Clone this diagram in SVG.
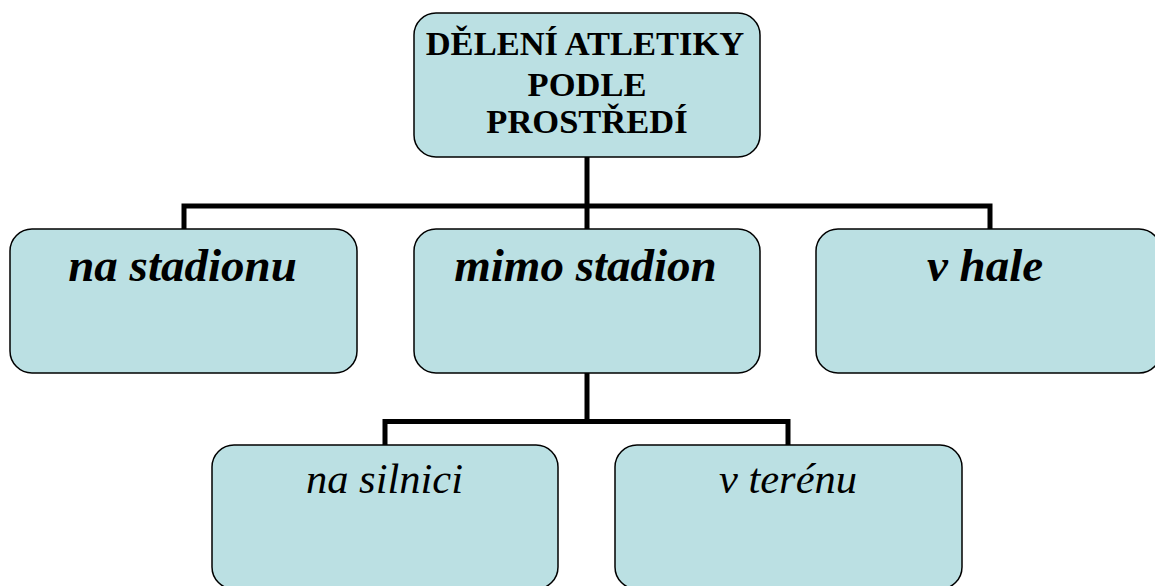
<svg xmlns="http://www.w3.org/2000/svg" width="1155" height="586" viewBox="0 0 1155 586">
<style>
.box{fill:#BBE0E3;stroke:#000;stroke-width:1.5}
.conn{fill:none;stroke:#000;stroke-width:5;stroke-linejoin:miter}
.t0{font-family:'Liberation Serif',serif;font-weight:bold;font-size:34.5px;text-anchor:middle}
.t1{font-family:'Liberation Serif',serif;font-weight:bold;font-style:italic;font-size:47px;text-anchor:middle}
.t2{font-family:'Liberation Serif',serif;font-style:italic;font-size:42.5px;text-anchor:middle}
</style>
<rect width="1155" height="586" fill="#fff"/>
<g id="connectors">
<path class="conn" d="M587,157 V206 M184,229 V206 H990 V229 M587,206 V229"/>
<path class="conn" d="M587,373 V421.5 M385,445 V421.5 H788 V445"/>
</g>
<g id="root">
<rect class="box" x="414" y="13" width="346" height="144" rx="22"/>
<text class="t0" x="585" y="55">DĚLENÍ ATLETIKY</text>
<text class="t0" x="587" y="96">PODLE</text>
<text class="t0" x="587" y="133">PROSTŘEDÍ</text>
</g>
<g id="na-stadionu">
<rect class="box" x="10" y="229" width="347" height="144" rx="22"/>
<text class="t1" x="182.5" y="281">na stadionu</text>
</g>
<g id="mimo-stadion">
<rect class="box" x="414" y="229" width="346" height="144" rx="22"/>
<text class="t1" x="585.5" y="281">mimo stadion</text>
</g>
<g id="v-hale">
<rect class="box" x="816" y="229" width="345" height="144" rx="22"/>
<text class="t1" x="985" y="281">v hale</text>
</g>
<g id="na-silnici">
<rect class="box" x="212" y="445" width="346" height="144" rx="22"/>
<text class="t2" x="384.5" y="493">na silnici</text>
</g>
<g id="v-terenu">
<rect class="box" x="615" y="445" width="347" height="144" rx="22"/>
<text class="t2" x="788" y="493">v terénu</text>
</g>
</svg>
